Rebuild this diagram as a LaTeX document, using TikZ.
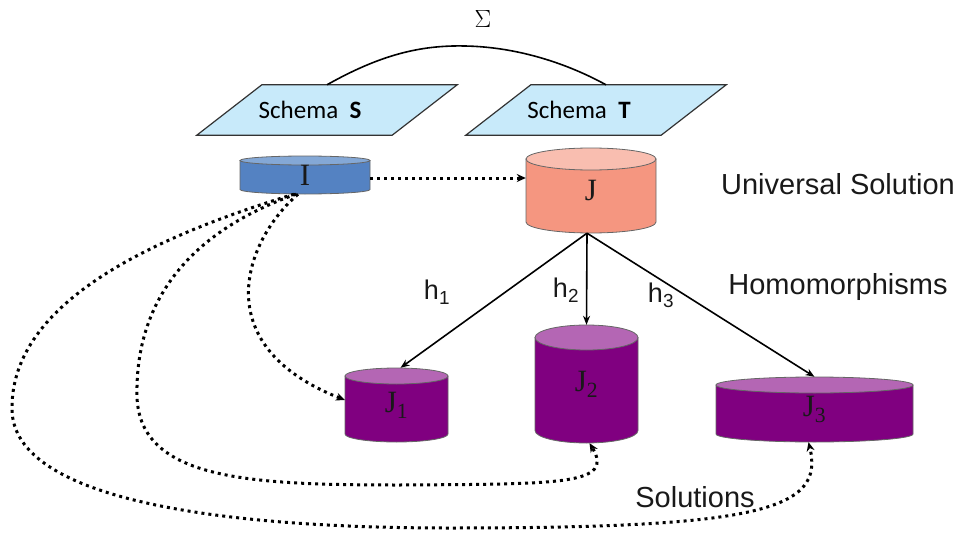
\documentclass[tikz,border=0pt]{standalone}
\usepackage{fontspec}
\setmainfont{Liberation Sans}
\newfontfamily\calibfont{Carlito}
\newfontfamily\cambfont{Liberation Serif}
\usetikzlibrary{arrows.meta,calc}

\definecolor{schemablue}{RGB}{200,234,250}
\definecolor{iblue}{RGB}{84,130,194}
\definecolor{ibluetop}{RGB}{132,168,214}
\definecolor{jsalmon}{RGB}{245,150,128}
\definecolor{jsalmontop}{RGB}{249,190,176}
\definecolor{jpurple}{RGB}{128,0,128}
\definecolor{jpurpletop}{RGB}{180,102,180}

% cylinder: name, cx, cy, width, height, ry, body, top, label
\newcommand{\drum}[9]{%
  \filldraw[fill=#7, draw=black!60, line width=0.8pt]
    ({#2-#4/2},{#3-#5/2+#6}) -- ({#2-#4/2},{#3+#5/2-#6})
    arc[start angle=180, end angle=0, x radius=#4/2, y radius=#6]
    -- ({#2+#4/2},{#3-#5/2+#6}) -- cycle;
  \filldraw[fill=#8, draw=black!60, line width=0.8pt]
    (#2,{#3-#5/2+#6}) ellipse[x radius=#4/2, y radius=#6];
  \node[dbbox, minimum width=#4, minimum height=#5](#1) at (#2,#3)
    {\raisebox{-11pt}{#9}};
}

\begin{document}
\begin{tikzpicture}[x=1pt, y=-1pt,
  schemabox/.style={minimum width=260, minimum height=50, inner sep=0pt},
  dbbox/.style={inner sep=0pt, font=\cambfont\fontsize{31}{33}\selectfont,
    text=black!90},
  dotarrow/.style={line width=3pt, dash pattern=on 3pt off 4pt,
    -{Stealth[length=9pt, width=8pt]}},
  homarrow/.style={line width=1.6pt, -{Stealth[length=9pt, width=7pt]}},
  lbl/.style={font=\fontsize{29}{32}\selectfont, text=black!90},
  hlbl/.style={font=\fontsize{27}{30}\selectfont, text=black!90}]
\useasboundingbox (0,0) rectangle (956,535);

% schemas
\node[schemabox](S) at (327,110){};
\node[schemabox](T) at (596,110){};
\filldraw[fill=schemablue, draw=black!80, line width=1.2pt] (S.south west)
  -- ([xshift=-65pt]S.south east) -- (S.north east)
  -- ([xshift=65pt]S.north west) -- cycle;
\filldraw[fill=schemablue, draw=black!80, line width=1.2pt] (T.south west)
  -- ([xshift=-65pt]T.south east) -- (T.north east)
  -- ([xshift=65pt]T.north west) -- cycle;
\node[font=\calibfont\fontsize{25}{27}\selectfont](Slabel)
  at ([xshift=-17pt]S.center){Schema~~\textbf{S}};
\node[font=\calibfont\fontsize{25}{27}\selectfont](Tlabel)
  at ([xshift=-17pt]T.center){Schema~~\textbf{T}};

\node[font=\fontsize{24}{24}\selectfont](sigma) at (483,19){$\Sigma$};
\draw[line width=1.6pt] (S.north) .. controls (380,55) and (420,45) .. (465,46)
  .. controls (520,47) and (570,65) .. ([xshift=10pt]T.north);

% databases
\drum{I}{305}{175}{130}{38}{4.5}{iblue}{ibluetop}{I}
\drum{J}{591}{190.5}{130}{85}{11}{jsalmon}{jsalmontop}{J}
\drum{J1}{396.5}{405}{103}{74}{8}{jpurple}{jpurpletop}{J\textsubscript{1}}
\drum{J2}{586.5}{384}{103}{118}{12.5}{jpurple}{jpurpletop}{J\textsubscript{2}}
\drum{J3}{814.5}{409.5}{197}{65}{8}{jpurple}{jpurpletop}{J\textsubscript{3}}

% homomorphisms
\draw[homarrow] ([xshift=-4pt]J.south) -- ([xshift=4pt]J1.north);
\draw[homarrow] ([xshift=-4pt]J.south) -- (J2.north);
\draw[homarrow] ([xshift=-4pt]J.south) -- (J3.north);
\node[hlbl](h1) at (437,292){h\textsubscript{1}};
\node[hlbl](h2) at (566,290){h\textsubscript{2}};
\node[hlbl](h3) at (661,295){h\textsubscript{3}};

% chase and solutions
\draw[dotarrow] ([yshift=-3pt]I.east) -- ([yshift=-3pt]I.east -| J.west);
\draw[dotarrow] ([xshift=-7pt]I.south) .. controls (245,240) and (205,345)
  .. ([yshift=5pt]J1.west);
\draw[dotarrow] ([xshift=-9pt]I.south) .. controls (180,235) and (135,310)
  .. (137,397) .. controls (140,480) and (250,485) .. (400,485)
  .. controls (560,484) and (615,485) .. ([xshift=3pt]J2.south);
\draw[dotarrow] ([xshift=-11pt]I.south) .. controls (160,235) and (10,300)
  .. (12,410) .. controls (14,500) and (220,528) .. (450,528)
  .. controls (760,528) and (825,510) .. ([xshift=-6pt]J3.south);

\node[lbl](universal) at (838,184){Universal Solution};
\node[lbl](homs) at (838,287){Homomorphisms};
\node[lbl](sols) at (695,497){Solutions};
\end{tikzpicture}
\end{document}
